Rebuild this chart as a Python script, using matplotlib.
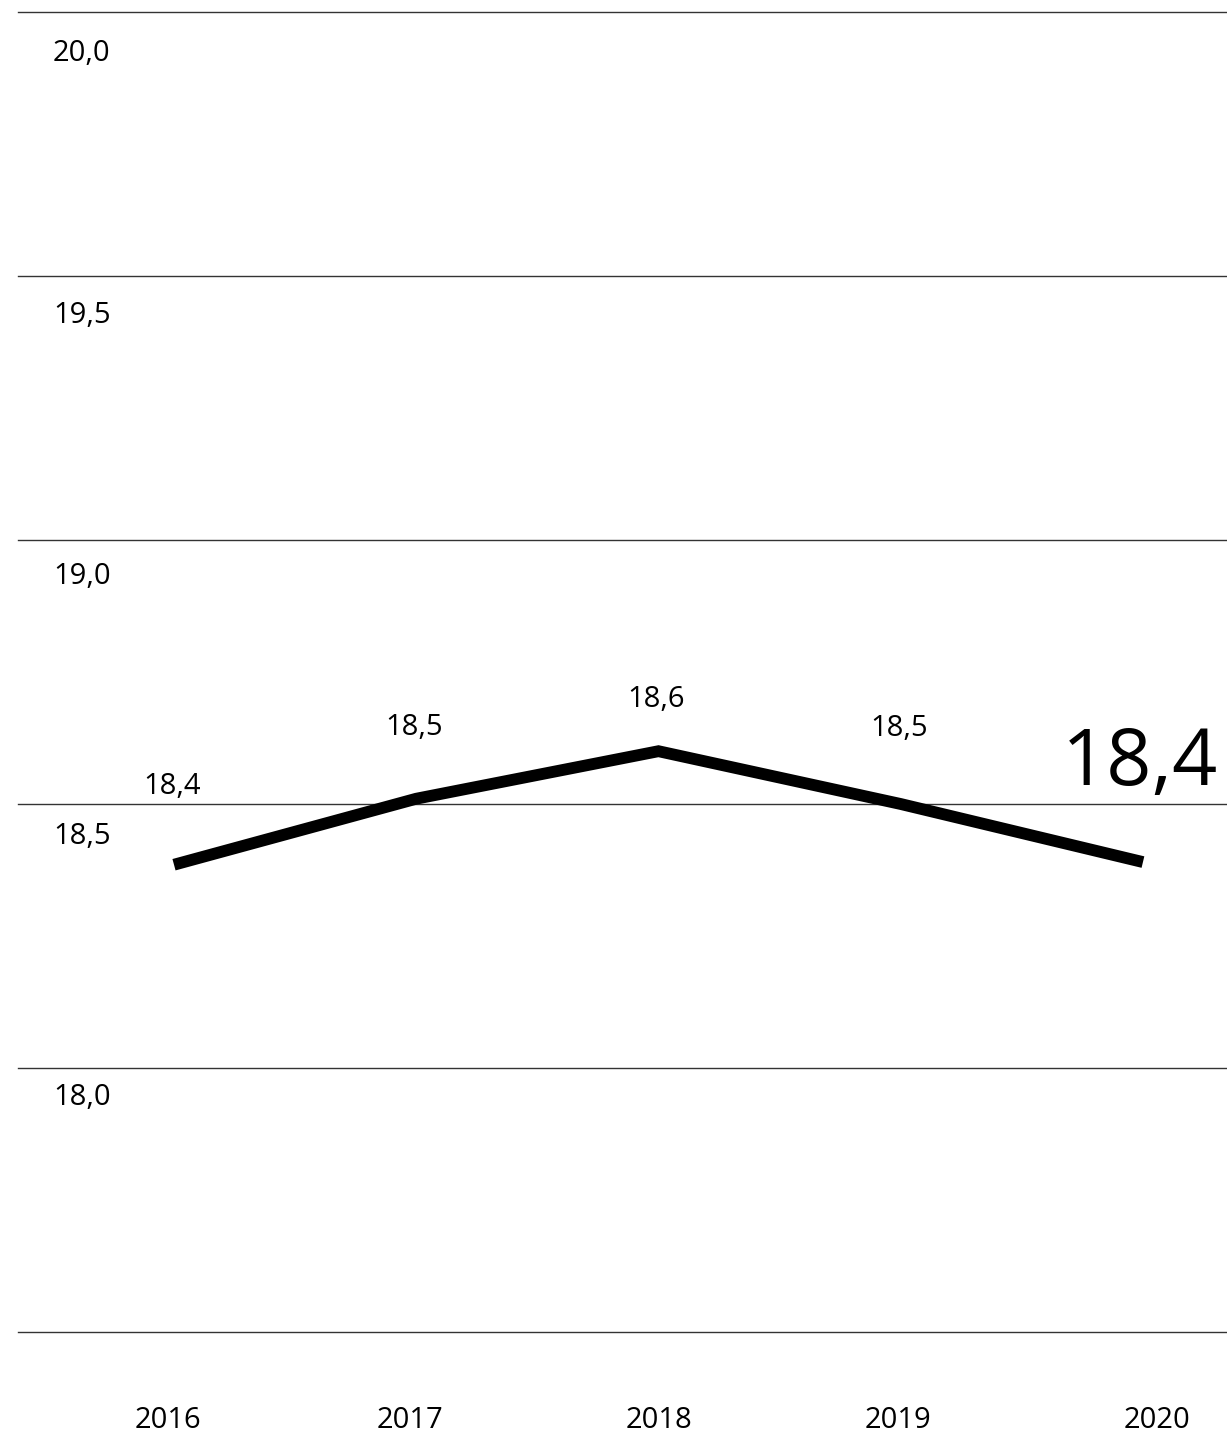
import matplotlib
matplotlib.use("Agg")
import matplotlib.pyplot as plt

plt.rcParams['font.family'] = ['Open Sans', 'DejaVu Sans']

# yearly values
years = [2016, 2017, 2018, 2019, 2020]
values = [18.385, 18.51, 18.60, 18.50, 18.39]

# y grid
ticks = [17.5, 18.0, 18.5, 19.0, 19.5, 20.0]
tick_labels = ["", "18,0", "18,5", "19,0", "19,5", "20,0"]

def fmt(v):
    return ("%.1f" % v).replace(".", ",")

fig = plt.figure(figsize=(12.27, 14.33), dpi=100)
ax = fig.add_axes([18 / 1227, 101 / 1433, 1209 / 1227, 1320 / 1433])
ax.set_xlim(2015.356, 2020.347)
ax.set_ylim(17.5, 20.0)
ax.axis("off")

for t in ticks:
    ax.axhline(t, color="#333333", lw=1.0, clip_on=False, zorder=1)

# tick labels sit just under each grid line
lab_drop = {18.0: 37, 18.5: 40, 19.0: 44, 19.5: 47, 20.0: 49}
for t, lab in zip(ticks, tick_labels):
    if not lab:
        continue
    ax.annotate(lab, xy=(0, t), xycoords=("axes fraction", "data"),
                xytext=(35, -lab_drop[t]), textcoords="offset pixels",
                ha="left", va="baseline", fontsize=21, color="black")

ax.plot(years, values, color="black", lw=8.5, solid_capstyle="butt",
        solid_joinstyle="miter", zorder=3)

# value labels above the line, last one large
lift = [71, 64, 44, 68]
for x, v, d in zip(years[:-1], values[:-1], lift):
    ax.annotate(fmt(v), xy=(x, v), xytext=(-2, d), textcoords="offset pixels",
                ha="center", va="baseline", fontsize=21, color="black")
ax.annotate(fmt(values[-1]), xy=(years[-1], values[-1]), xytext=(75, 77),
            textcoords="offset pixels", ha="right", va="baseline",
            fontsize=57, color="black")

# year labels below the plot
shift = [-6, -6, 1, -3, 14]
for x, dx in zip(years, shift):
    ax.annotate(str(x), xy=(x, 0), xycoords=("data", "axes fraction"),
                xytext=(dx, -96), textcoords="offset pixels",
                ha="center", va="baseline", fontsize=21, color="black",
                annotation_clip=False)

fig.savefig("out.png", dpi=100, facecolor="white")
